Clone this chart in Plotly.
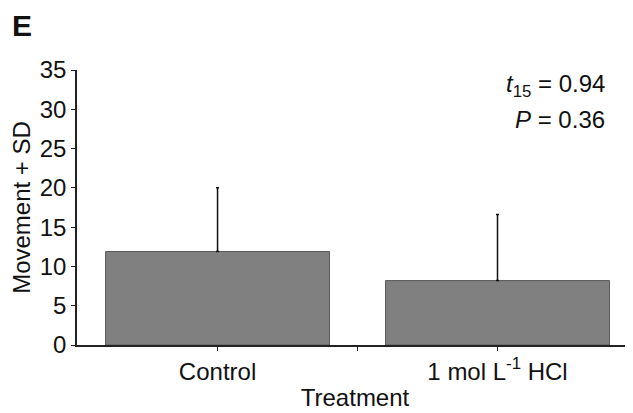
import plotly.graph_objects as go

categories = ["Control", "1 mol L<sup>-1</sup> HCl"]
means = [11.9, 8.2]
sd = [8.1, 8.4]
y_ticks = [0, 5, 10, 15, 20, 25, 30, 35]

font = "Liberation Sans, Arial, sans-serif"
xpos = list(range(len(categories)))

# the page has an 8px body margin, so the figure is 8px smaller than the window
W, H = 625, 405
L, T, B = 69, 62, 68
PW = W - L
PH = H - T - B

fig = go.Figure()
fig.add_trace(go.Bar(
    x=xpos, y=means, width=0.8,
    marker=dict(color="#808080", line=dict(color="#5a5a5a", width=1)),
    error_y=dict(type="data", array=sd, arrayminus=[0] * len(sd), symmetric=False,
                 color="#111111", thickness=1.5, width=1.5),
))

def px(xp):
    return (xp - 8 - L) / PW

def py(yp):
    return (T + PH - (yp - 8)) / PH

fig.update_layout(
    width=W, height=H,
    margin=dict(l=L, r=0, t=T, b=B),
    plot_bgcolor="white", paper_bgcolor="white",
    showlegend=False,
    font=dict(family=font, size=24, color="#111111"),
    xaxis=dict(
        range=[-0.502, 1.484],
        tickvals=[0, 0.5, 1], ticktext=[categories[0], "", categories[1]],
        ticks="outside", ticklen=4, tickwidth=1.2, tickcolor="#222",
        showline=True, linecolor="#222", linewidth=1.5,
        showgrid=False, zeroline=False,
        tickfont=dict(size=24),
        title=dict(text="Treatment", font=dict(size=24), standoff=6),
    ),
    yaxis=dict(
        range=[0, 35], tickvals=y_ticks,
        ticks="outside", ticklen=4, tickwidth=1.2, tickcolor="#222",
        showline=True, linecolor="#222", linewidth=1.5,
        showgrid=False, zeroline=False,
        tickfont=dict(size=24),
        title=dict(text="Movement + SD", font=dict(size=24), standoff=2),
    ),
    annotations=[
        dict(text="<b>E</b>", x=px(10), y=py(25), xref="paper", yref="paper",
             xanchor="left", yanchor="middle", showarrow=False, font=dict(size=30)),
        dict(text="<i>t</i><sub>15</sub> = 0.94", xref="paper", yref="paper",
             x=px(607), y=py(85), xanchor="right", yanchor="middle",
             showarrow=False, font=dict(size=24)),
        dict(text="<i>P</i> = 0.36", xref="paper", yref="paper",
             x=px(607), y=py(120), xanchor="right", yanchor="middle",
             showarrow=False, font=dict(size=24)),
    ],
)

fig.write_html("out.html")
